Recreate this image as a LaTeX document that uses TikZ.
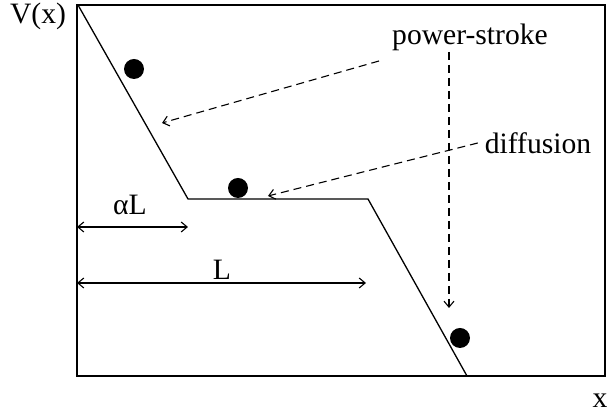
\documentclass[tikz,border=0pt]{standalone}
\usepackage{fontspec}
\setmainfont{Liberation Serif}
\usetikzlibrary{arrows.meta}

\begin{document}
\begin{tikzpicture}[x=0.5pt, y=-0.5pt, >={Straight Barb[length=3pt,width=5pt]},
    font=\fontsize{14.8}{17}\selectfont,
    ball/.style={circle, fill=black, inner sep=0pt, minimum size=10pt},
    hint/.style={->, dashed, dash pattern=on 4pt off 2.5pt, line width=0.55pt},
    span/.style={<->, line width=0.55pt}]
  \useasboundingbox (0,0) rectangle (607,415);

  % Frame
  \draw[line width=0.8pt] (77,5) rectangle (605,376);
  \node (vx) at (38,16) {V(x)};
  \node (xlab) at (600,401) {x};

  % Potential
  \coordinate (top) at (78,5);
  \coordinate (kneeA) at (188,199);
  \coordinate (kneeB) at (368,199);
  \coordinate (bottom) at (467,376);
  \draw[line width=0.65pt] (top) -- (kneeA) -- (kneeB) -- (bottom);

  % Balls
  \node[ball] (b1) at (134,69) {};
  \node[ball] (b2) at (238,188) {};
  \node[ball] (b3) at (460,338) {};

  % Labels and arrows
  \node (stroke) at (470,37) {power-stroke};
  \node (diff) at (538,143) {diffusion};
  \coordinate (strokeA) at (379,61);
  \coordinate (strokeB) at (449,52);
  \coordinate (tipA) at (162,123);
  \coordinate (tipB) at (449,308);
  \coordinate (tipC) at (268,196);
  \draw[hint] (strokeA) -- (tipA);
  \draw[hint] (strokeB) -- (tipB);
  \draw[hint] (diff.west) -- (tipC);

  % Lengths
  \coordinate (aL0) at (77,227);
  \coordinate (aL1) at (188,227);
  \coordinate (L0) at (77,283);
  \coordinate (L1) at (366,283);
  \draw[span] (aL0) -- (aL1);
  \draw[span] (L0) -- (L1);
  \node (al) at (130,205) {αL};
  \node (ll) at (222,270) {L};
\end{tikzpicture}
\end{document}
